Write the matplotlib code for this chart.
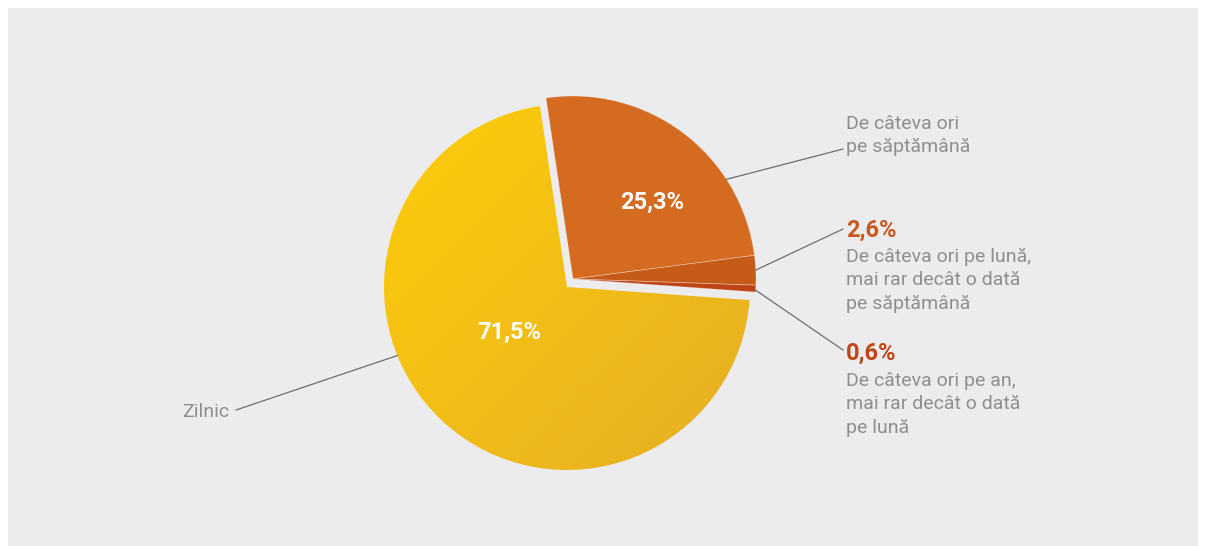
import numpy as np
import matplotlib.pyplot as plt
from matplotlib.patches import Rectangle
from matplotlib.colors import LinearSegmentedColormap

# data (share of respondents, %)
categories = ['De câteva ori\npe săptămână',
              'De câteva ori pe lună,\nmai rar decât o dată\npe săptămână',
              'De câteva ori pe an,\nmai rar decât o dată\npe lună',
              'Zilnic']
values = [25.3, 2.6, 0.6, 71.5]
value_labels = ['25,3%', '2,6%', '0,6%', '71,5%']
colors = ['#D46B21', '#C65A17', '#BD4515', '#F6C114']

W, H = 1206, 546
fig = plt.figure(figsize=(W / 100, H / 100), dpi=100, facecolor='white')
ax = fig.add_axes([0, 0, 1, 1])

def py(y):
    # pixel row (top-down) -> axes y
    return H - y

ax.add_patch(Rectangle((8, 0), 1190, H - 8, facecolor='#ECECEE', edgecolor='none', zorder=0))

R = 183
c_main = (567, py(287))
c_expl = (573, py(279))

# yellow slice (not exploded)
w_main, _ = ax.pie(values, startangle=98.5, counterclock=False, radius=R,
                   center=c_main, colors=colors, frame=True,
                   wedgeprops=dict(linewidth=0))
for w in w_main[:3]:
    w.set_visible(False)
yellow = w_main[3]
yellow.set_facecolor('none')

# gradient fill for the yellow slice
cmap = LinearSegmentedColormap.from_list('yel', ['#FDCC09', '#F3BE17', '#E4AE26'])
gx, gy = np.meshgrid(np.linspace(0, 1, 200), np.linspace(0, 1, 200))
grad = (gx + (1 - gy)) / 2
img = ax.imshow(grad, cmap=cmap, origin='lower',
                extent=(c_main[0] - R, c_main[0] + R, c_main[1] - R, c_main[1] + R),
                zorder=1)
img.set_clip_path(yellow)

# the other three slices, pulled out together
w_expl, _ = ax.pie(values, startangle=98.5, counterclock=False, radius=R,
                   center=c_expl, colors=colors, frame=True,
                   wedgeprops=dict(linewidth=0.6, edgecolor=(1, 1, 1, 0.35)))
w_expl[3].set_visible(False)
for w in w_expl[:3]:
    w.set_zorder(2)

ax.set_xlim(0, W)
ax.set_ylim(0, H)
ax.set_aspect('equal')
ax.axis('off')

plt.rcParams['font.family'] = ['Roboto', 'DejaVu Sans']
gray = '#8E8E8E'
line_col = '#6E6E6E'
fs = 14
ls = 1.39

def on_edge(center, ang, r=R):
    a = np.deg2rad(ang)
    return center[0] + r * np.cos(a), center[1] + r * np.sin(a)

# values inside the big slices
x, y = on_edge(c_expl, 44, 0.6 * R)
ax.text(x, y, value_labels[0], color='white', fontsize=17, fontweight='bold',
        ha='center', va='center', zorder=5)
x, y = on_edge(c_main, 218, 0.4 * R)
ax.text(x, y, value_labels[3], color='white', fontsize=17, fontweight='bold',
        ha='center', va='center', zorder=5)

# leader lines + outside labels
lab_x = 846
p = on_edge(c_expl, 33)
ax.plot([p[0], 843], [p[1], py(149)], color=line_col, lw=0.9, zorder=4)
ax.text(lab_x, py(115), categories[0], color=gray, fontsize=fs,
        ha='left', va='top', linespacing=ls)

p = on_edge(c_expl, 2.8)
ax.plot([p[0], 843], [p[1], py(229)], color=line_col, lw=0.9, zorder=4)
ax.text(lab_x, py(230), value_labels[1], color='#C9591A', fontsize=17, fontweight='bold',
        ha='left', va='center')
ax.text(lab_x, py(248), categories[1], color=gray, fontsize=fs,
        ha='left', va='top', linespacing=ls)

p = on_edge(c_expl, -3.5)
ax.plot([p[0], 843], [p[1], py(350)], color=line_col, lw=0.9, zorder=4)
ax.text(lab_x, py(353), value_labels[2], color='#BF4516', fontsize=17, fontweight='bold',
        ha='left', va='center')
ax.text(lab_x, py(372), categories[2], color=gray, fontsize=fs,
        ha='left', va='top', linespacing=ls)

p = on_edge(c_main, 202)
ax.plot([p[0], 236], [p[1], py(410)], color=line_col, lw=0.9, zorder=4)
ax.text(229, py(412), categories[3], color=gray, fontsize=fs,
        ha='right', va='center')

fig.savefig('out.png', dpi=100, facecolor='white')
